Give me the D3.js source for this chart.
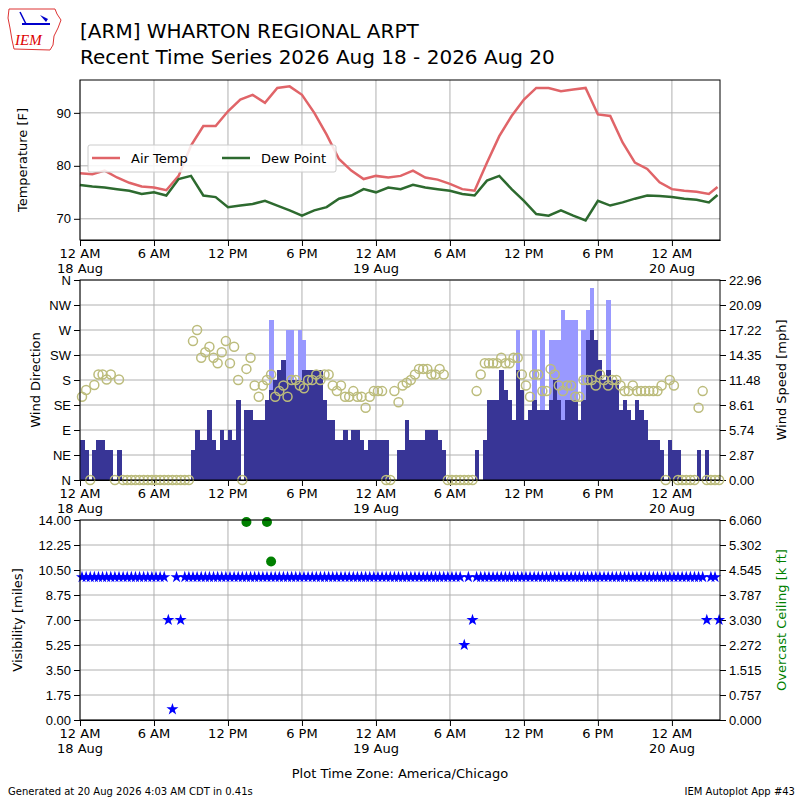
<!DOCTYPE html>
<html><head><meta charset="utf-8">
<script src="https://cdn.jsdelivr.net/npm/d3@7"></script>
<style>body{margin:0;background:#fff}svg{font-family:"DejaVu Sans",sans-serif}</style>
</head><body><svg id="c" width="800" height="800"></svg>
<script>
// ---- data ----
const tempHours = [0,1,2,3,4,5,6,7,8,9,10,11,12,13,14,15,16,17,18,19,20,21,22,23,24,25,26,27,28,29,30,31,32,33,34,35,36,37,38,39,40,41,42,43,44,45,46,47,48,49,50,51,51.7];
const airTemp = [78.6,78.4,79.1,77.8,76.8,76.1,75.9,75.4,78.1,83.8,87.5,87.5,90.3,92.5,93.4,91.9,94.7,95,93.4,90,85.9,81.3,79.1,77.5,78.1,77.8,78.1,79.1,77.8,77.4,76.6,75.6,75.3,80.6,85.6,89.4,92.5,94.7,94.7,94.1,94.4,94.7,89.7,89.4,84.4,80.6,79.4,76.9,75.6,75.3,75.1,74.7,76.0];
const dewPoint = [76.4,76.1,75.9,75.6,75.3,74.7,75.0,74.4,77.5,78.1,74.4,74.1,72.2,72.5,72.8,73.4,72.5,71.6,70.6,71.6,72.2,73.8,74.4,75.6,75.0,75.9,75.6,76.4,75.9,75.6,75.3,74.7,74.4,77.2,78.1,75.6,73.4,70.9,70.6,71.6,70.6,69.7,73.4,72.5,73.1,73.8,74.4,74.3,74.1,73.8,73.6,73.1,74.5];
// 20-minute observations (156 bins)
const windSpeed = [4.6,3.45,0,3.45,4.6,4.6,3.45,3.45,0,3.45, 0,0,0,0,0,0,0,0,0,0,0,0,0,0,0,0,0,
 3.45,5.74,4.6,4.6,8.0,4.6,3.45,5.74,4.6,5.74,4.6,9.2,0,8.0,8.0,6.9,6.9,6.9,9.2,10.3,11.5,12.6,13.8,11.5,11.5,11.5,11.5,12.6,12.6,12.6,12.6,12.6,9.2,6.9,6.9,4.6,4.6,5.74,4.6,5.74,5.74,4.6,3.45,4.6,4.6,4.6,4.6,4.6,0,0,3.45,
 3.45,6.9,4.6,4.6,4.6,4.6,5.74,5.74,5.74,4.6,3.45,0,0,0,0,0,0,0,3.45,0,4.6,9.2,9.2,9.2,12.6,10.3,9.2,6.9,12.6,10.3,6.9,8.0,9.2,8.0,8.0,8.0,9.2,11.5,9.2,6.9,9.2,9.2,9.2,6.9,9.2,16.1,17.2,16.1,13.8,11.5,12.6,11.5,11.5,8.0,9.2,8.0,6.9,9.2,8.0,6.9,4.6,4.6,4.6,3.45,0,4.6,3.45,3.45,0,0,0,0,3.45,0,3.45,0,0,0];
const windGust = {46:18.4,50:17.2,51:17.2,53:17.2,54:16.1,106:17.2,110:17.2,112:17.2,114:16.1,115:16.1,116:16.1,117:19.5,118:18.4,119:18.4,120:18.4,122:17.2,123:19.5,124:22.0,128:20.7};
const windDir = [150,162,0,171,190,190,181,190,0,181, 0,0,0,0,0,0,0,0,0,0,0,0,0,0,0,0,0,
 250,270,220,230,240,220,210,230,250,210,240,180,0,200,220,170,150,170,180,190,150,160,170,150,180,180,170,165,180,180,190,180,190,190,170,160,170,150,150,160,150,150,130,150,160,160,160,0,0,160,140,
 170,175,180,190,200,200,200,190,190,200,190,0,0,0,0,0,0,0,160,190,210,210,210,210,220,210,210,220,220,190,170,150,190,190,160,160,200,190,170,160,170,170,150,150,180,180,180,170,190,180,170,180,180,170,160,160,170,160,160,160,160,160,160,170,0,180,170,0,0,0,0,0,130,160,0,0,0,0];
const visibility = Array.from({length:156},(_, i)=>({21:7,22:0.75,24:7,93:5.25,95:7,152:7,155:7})[i] ?? 10);
const ceiling = [{bin:40,v:6.0},{bin:45,v:6.0},{bin:46,v:4.8}];
const dirLabels = ["N","NE","E","SE","S","SW","W","NW","N"];
const visTicks = [0,1.75,3.5,5.25,7,8.75,10.5,12.25,14];
const ceilTicks = ["0.000","0.757","1.515","2.272","3.030","3.787","4.545","5.302","6.060"];
const spdTicks = ["0.00","2.87","5.74","8.61","11.48","14.35","17.22","20.09","22.96"];

// ---- setup ----
const svg = d3.select("#c");
const t0 = Date.UTC(2026,7,18,0,0);
const H = 3600e3;
const tm = h => new Date(t0 + h*H);
const x = d3.scaleUtc().domain([tm(0), tm(51.9)]).range([80,720]);
const tickHours = [0,6,12,18,24,30,36,42,48];
const tickLabel = h => { const hh=h%24; return hh===0?"12 AM":hh===12?"12 PM":(hh<12?hh+" AM":(hh-12)+" PM"); };
const dayLabel = {0:"18 Aug",24:"19 Aug",48:"20 Aug"};
const grid="#b0b0b0";

function panel(y0,y1){
  const g=svg.append("g");
  g.selectAll(".vg").data(tickHours).join("line").attr("x1",d=>x(tm(d))).attr("x2",d=>x(tm(d))).attr("y1",y0).attr("y2",y1).attr("stroke",grid).attr("stroke-width",1);
  svg.append("g").attr("transform",`translate(0,${y1})`).call(d3.axisBottom(x).tickValues(tickHours.map(tm)).tickFormat("").tickSizeOuter(0));
  tickHours.forEach(h=>{
    svg.append("text").attr("x",x(tm(h))).attr("y",y1+18).attr("text-anchor","middle").attr("font-size",13).text(tickLabel(h));
    if(dayLabel[h]!==undefined) svg.append("text").attr("x",x(tm(h))).attr("y",y1+33).attr("text-anchor","middle").attr("font-size",13).text(dayLabel[h]);
  });
  return g;
}
function frame(y0,y1){svg.append("rect").attr("x",80).attr("y",y0).attr("width",640).attr("height",y1-y0).attr("fill","none").attr("stroke","#000").attr("stroke-width",1);}

// ---- titles ----
svg.append("text").attr("x",80).attr("y",38).attr("font-size",20).text("[ARM] WHARTON REGIONAL ARPT");
svg.append("text").attr("x",80).attr("y",64).attr("font-size",20).text("Recent Time Series 2026 Aug 18 - 2026 Aug 20");
const lg=svg.append("g");
lg.append("path").attr("d","M9,9 L55,9 L57,14 L61,20 L58,28 L54,36 L53,45 L50,50 L14,49 L12,40 L10,28 L8,18 Z").attr("fill","none").attr("stroke","#d33").attr("stroke-width",1);
lg.append("line").attr("x1",22).attr("y1",24).attr("x2",50).attr("y2",24).attr("stroke","#00c").attr("stroke-width",2);
lg.append("line").attr("x1",20).attr("y1",12).attr("x2",26).attr("y2",24).attr("stroke","#00c").attr("stroke-width",1.5);
lg.append("path").attr("d","M40,15 L48,19 L46,22 Z").attr("fill","#00c");
lg.append("text").attr("x",15).attr("y",45).attr("font-size",15).attr("font-style","italic").attr("font-family","Liberation Serif").attr("fill","#d00").text("IEM");

// ---- panel 1: temperature ----
const yT=d3.scaleLinear().domain([66,96.2]).range([240,80]);
const p1=panel(80,240);
p1.selectAll(".hg").data([70,80,90]).join("line").attr("x1",80).attr("x2",720).attr("y1",d=>yT(d)).attr("y2",d=>yT(d)).attr("stroke",grid);
svg.append("g").attr("transform","translate(80,0)").call(d3.axisLeft(yT).tickValues([70,80,90]).tickSizeOuter(0)).call(g=>g.selectAll("text").attr("font-size",13)).call(g=>g.select(".domain").remove());
const line=d3.line().x((d,i)=>x(tm(tempHours[i]))).y(d=>yT(d));
svg.append("path").datum(airTemp).attr("d",line).attr("fill","none").attr("stroke","#e06468").attr("stroke-width",2.5);
svg.append("path").datum(dewPoint).attr("d",line).attr("fill","none").attr("stroke","#2d6a2f").attr("stroke-width",2.5);
frame(80,240);
svg.append("text").attr("transform","translate(27,160) rotate(-90)").attr("text-anchor","middle").attr("font-size",13).text("Temperature [F]");
const lgd=svg.append("g");
lgd.append("rect").attr("x",88).attr("y",145).attr("width",248).attr("height",27).attr("fill","#fff").attr("fill-opacity",0.85).attr("stroke","#ccc").attr("rx",2);
lgd.append("line").attr("x1",92).attr("x2",120).attr("y1",158).attr("y2",158).attr("stroke","#e06468").attr("stroke-width",2.5);
lgd.append("text").attr("x",131).attr("y",163).attr("font-size",13).text("Air Temp");
lgd.append("line").attr("x1",222).attr("x2",250).attr("y1",158).attr("y2",158).attr("stroke","#2d6a2f").attr("stroke-width",2.5);
lgd.append("text").attr("x",261).attr("y",163).attr("font-size",13).text("Dew Point");

// ---- panel 2: wind ----
const yD=d3.scaleLinear().domain([0,360]).range([480,280]);
const yS=d3.scaleLinear().domain([0,22.96]).range([480,280]);
const p2=panel(280,480);
p2.selectAll(".hg").data(d3.range(0,361,45)).join("line").attr("x1",80).attr("x2",720).attr("y1",d=>yD(d)).attr("y2",d=>yD(d)).attr("stroke",grid);
svg.append("g").attr("transform","translate(80,0)").call(d3.axisLeft(yD).tickValues(d3.range(0,361,45)).tickFormat((d,i)=>dirLabels[i]).tickSizeOuter(0)).call(g=>g.selectAll("text").attr("font-size",13)).call(g=>g.select(".domain").remove());
svg.append("g").attr("transform","translate(720,0)").call(d3.axisRight(yS).tickValues(spdTicks.map(Number)).tickFormat((d,i)=>spdTicks[i]).tickSizeOuter(0)).call(g=>g.selectAll("text").attr("font-size",13)).call(g=>g.select(".domain").remove());
const binT=i=>tm(i/3);
svg.append("g").attr("shape-rendering","crispEdges").selectAll("rect").data(Object.entries(windGust)).join("rect").attr("x",d=>x(binT(+d[0]))).attr("width",d=>x(binT(+d[0]+1))-x(binT(+d[0]))+0.4).attr("y",d=>yS(d[1])).attr("height",d=>480-yS(d[1])).attr("fill","#9999ff");
svg.append("g").attr("shape-rendering","crispEdges").selectAll("rect").data(windSpeed).join("rect").attr("x",(d,i)=>x(binT(i))).attr("width",(d,i)=>x(binT(i+1))-x(binT(i))+0.4).attr("y",d=>yS(d)).attr("height",d=>480-yS(d)).attr("fill","#383596");
svg.append("g").selectAll("circle").data(windDir).join("circle").attr("cx",(d,i)=>x(binT(i))+2).attr("cy",d=>yD(d)).attr("r",4.5).attr("fill","none").attr("stroke","#bcbc7c").attr("stroke-width",1.5);
frame(280,480);
svg.append("text").attr("transform","translate(40,380) rotate(-90)").attr("text-anchor","middle").attr("font-size",13).text("Wind Direction");
svg.append("text").attr("transform","translate(786,380) rotate(-90)").attr("text-anchor","middle").attr("font-size",13).text("Wind Speed [mph]");

// ---- panel 3: visibility ----
const yV=d3.scaleLinear().domain([0,14]).range([720,520]);
const yC=d3.scaleLinear().domain([0,6.06]).range([720,520]);
const p3=panel(520,720);
p3.selectAll(".hg").data(visTicks).join("line").attr("x1",80).attr("x2",720).attr("y1",d=>yV(d)).attr("y2",d=>yV(d)).attr("stroke",grid);
svg.append("g").attr("transform","translate(80,0)").call(d3.axisLeft(yV).tickValues(visTicks).tickFormat(d3.format(".2f")).tickSizeOuter(0)).call(g=>g.selectAll("text").attr("font-size",13)).call(g=>g.select(".domain").remove());
svg.append("g").attr("transform","translate(720,0)").call(d3.axisRight(yC).tickValues(ceilTicks.map(Number)).tickFormat((d,i)=>ceilTicks[i]).tickSizeOuter(0)).call(g=>g.selectAll("text").attr("font-size",13)).call(g=>g.select(".domain").remove());
const star=d3.symbol().type(d3.symbolStar).size(45);
svg.append("g").selectAll("path").data(visibility).join("path").attr("d",star).attr("transform",(d,i)=>`translate(${x(binT(i))+2},${yV(d)})`).attr("fill","#0000ff");
svg.append("g").selectAll("circle").data(ceiling).join("circle").attr("cx",d=>x(binT(d.bin))+2).attr("cy",d=>yC(d.v)).attr("r",5).attr("fill","#008000");
frame(520,720);
svg.append("text").attr("transform","translate(22,620) rotate(-90)").attr("text-anchor","middle").attr("font-size",13).text("Visibility [miles]");
svg.append("text").attr("transform","translate(786,620) rotate(-90)").attr("text-anchor","middle").attr("font-size",13).attr("fill","#008000").text("Overcast Ceiling [k ft]");

svg.append("text").attr("x",400).attr("y",778).attr("text-anchor","middle").attr("font-size",13).text("Plot Time Zone: America/Chicago");
svg.append("text").attr("x",8).attr("y",795).attr("font-size",10).text("Generated at 20 Aug 2026 4:03 AM CDT in 0.41s");
svg.append("text").attr("x",795).attr("y",795).attr("text-anchor","end").attr("font-size",10).text("IEM Autoplot App #43");
</script></body></html>
